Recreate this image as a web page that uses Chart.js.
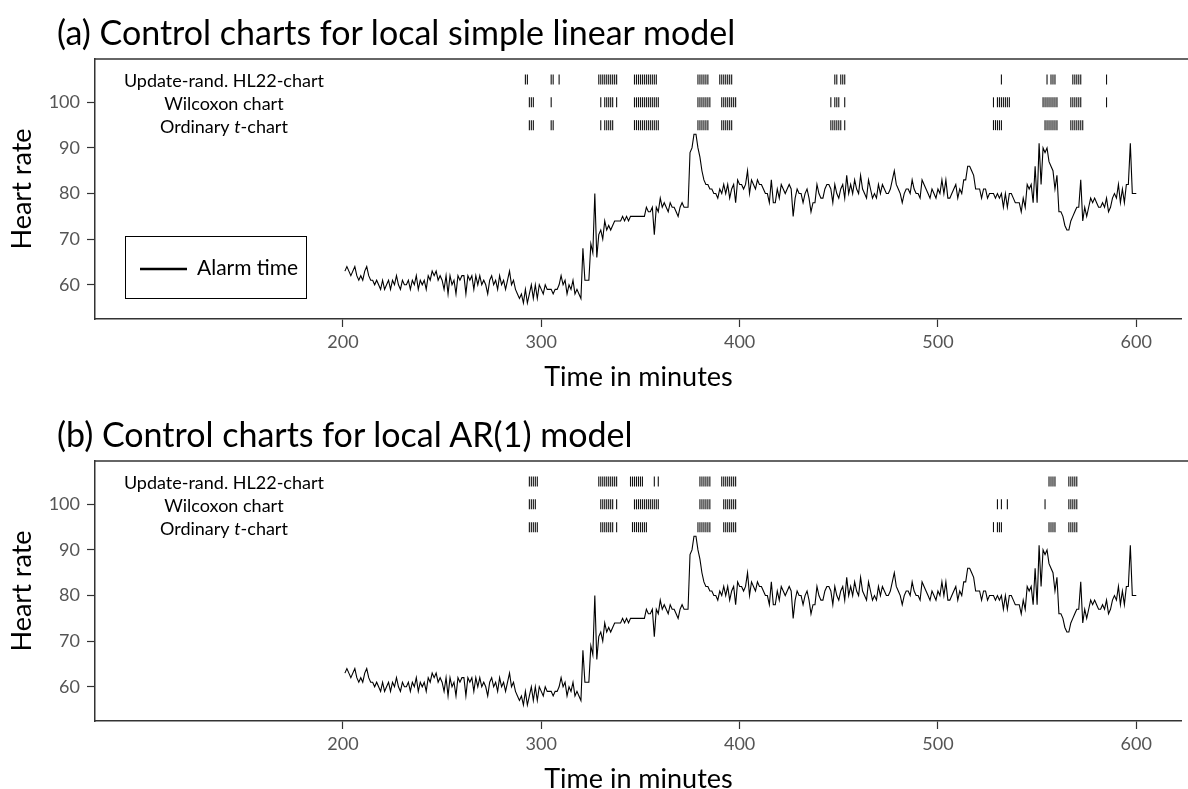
<!DOCTYPE html>
<html>
<head>
<meta charset="UTF-8" />
<script src="https://cdn.jsdelivr.net/npm/chart.js@4.4.1/dist/chart.umd.min.js"></script>
<style>
  html, body { margin: 0; padding: 0; background: #fff; overflow: hidden; }
  body { width: 1188px; height: 789px; position: relative; font-family: Lato, sans-serif; }
  .panel { position: absolute; left: 0; width: 1188px; height: 394px; }
  .panel canvas { position: absolute; left: 0; top: 0; }
  .panel h2 { position: absolute; left: 57px; top: 12px; margin: 0; font-weight: normal;
              font-size: 34px; line-height: 40px; color: #000; white-space: nowrap; z-index: 2; }
</style>
</head>
<body>
<div class="panel" style="top:0">
  <canvas id="chartLinear" width="1188" height="394"></canvas>
  <h2>(a) Control charts for local simple linear model</h2>
</div>
<div class="panel" style="top:402px">
  <canvas id="chartAR" width="1188" height="394"></canvas>
  <h2>(b) Control charts for local AR(1) model</h2>
</div>
<script>
// heart rate, one value per minute starting at minute 201
const minuteStart = 201;
const heartRate = [
  63,64,63,62,63,64,62,61,62,61, 63,64,62,61,61,60,61,60,59,61,
  59,60,61,59,61,60,62,60,59,61, 60,60,61,59,61,60,62,59,61,60,
  61,59,62,61,63,62,63,61,62,61, 59,62,58,62,60,61,58,62,61,62,
  62,58,62,61,62,59,62,60,62,60, 61,60,58,61,62,60,61,59,62,60,
  61,59,61,63,60,61,59,58,57,58, 56,59,56,58,60,57,60,57,60,59,
  58,60,59,59,59,58,59,59,60,62, 60,61,58,60,59,61,58,59,58,57,
  68,61,61,61,69,67,80,66,71,72, 70,74,72,73,72,73,74,74,74,74,
  75,74,75,74,75,75,75,75,75,75, 75,75,77,76,76,77,71,77,76,79,
  77,78,77,76,78,77,77,76,75,77, 78,77,77,77,89,90,93,93,90,88,
  85,83,82,82,81,81,80,80,79,81, 80,82,80,82,79,81,82,78,83,82,
  82,81,82,85,80,83,82,81,83,82, 82,81,80,80,78,83,78,78,81,79,
  82,81,80,81,82,81,75,79,81,80, 80,78,80,81,79,76,78,78,82,80,
  79,79,81,82,82,81,78,82,80,79, 81,82,79,84,80,82,80,83,81,80,
  84,81,80,79,83,81,79,80,79,82, 80,82,81,80,80,81,83,85,82,81,
  80,78,80,81,81,80,83,81,80,80, 79,83,82,81,80,79,81,80,79,81,
  80,83,80,83,79,79,80,81,82,79, 81,80,83,83,86,86,85,84,81,81,
  81,79,81,81,79,80,80,80,79,80, 79,80,77,80,77,80,80,79,78,78,
  78,76,79,77,82,81,82,78,86,78, 91,82,90,89,90,87,86,85,81,84,
  76,76,75,73,72,72,74,75,76,77, 77,83,74,77,75,77,79,78,79,78,
  77,77,78,77,79,76,77,79,80,79, 82,78,81,78,82,82,91,80,80,80
];

const xTickValues = [200, 300, 400, 500, 600];
const yTickValues = [60, 70, 80, 90, 100];
const chartNames = ['Update-rand. HL22-chart', 'Wilcoxon chart', 'Ordinary t-chart'];
const alarmLevels = [105, 100, 95];

// alarm minutes, local simple linear model
const linHL22 = [292,293,305,306,309,329,330,331,332,333,334,335,336,337,338,
  347,348,349,350,351,352,353,354,355,356,357,358,379,380,381,382,383,384,
  390,391,392,393,394,395,396,448,449,451,452,453,532,555,557,558,559,
  568,569,570,571,572,585];
const linWilcoxon = [294,295,296,305,330,332,333,334,335,336,338,
  347,348,349,350,351,352,353,354,355,356,357,358,359,379,380,381,382,383,384,385,
  391,392,393,394,395,396,397,398,446,448,449,450,453,528,530,531,532,533,534,535,536,
  553,554,555,556,557,558,559,560,567,568,569,570,571,572,585];
const linT = [294,295,296,305,306,330,332,333,334,335,336,
  347,348,349,350,351,352,353,354,355,356,357,358,359,379,380,381,382,383,384,
  391,392,393,394,395,396,446,447,448,449,450,451,453,528,529,530,531,532,
  554,555,556,557,558,559,560,567,568,569,570,571,572,573];

// alarm minutes, local AR(1) model
const arHL22 = [294,295,296,297,298,329,330,331,332,333,334,335,336,337,338,
  345,346,347,348,349,350,351,357,359,380,381,382,383,384,385,
  391,392,393,394,395,396,397,398,556,557,558,559,566,567,568,569,570];
const arWilcoxon = [294,295,296,297,330,331,332,333,334,335,336,338,
  347,348,349,350,351,352,353,354,355,356,357,358,359,380,381,382,383,384,385,
  392,393,394,395,396,397,398,530,532,535,554,566,567,568,569,570];
const arT = [294,295,296,297,298,330,331,332,333,334,335,336,338,
  346,347,348,349,350,351,352,353,379,380,381,382,383,384,385,
  392,393,394,395,396,397,398,528,530,531,532,556,557,558,559,566,567,568,569,570];

const FONT = 'Lato';
const labelCentre = 140;   // minute at which the chart names are centred

// names of the three control charts, left of the alarm rows
const rowLabels = {
  id: 'rowLabels',
  afterDatasetsDraw(chart) {
    const { ctx, scales: { x, y } } = chart;
    const cx = x.getPixelForValue(labelCentre);
    ctx.save();
    ctx.fillStyle = '#000';
    ctx.textBaseline = 'middle';
    ctx.textAlign = 'left';
    chartNames.forEach((name, i) => {
      const cy = y.getPixelForValue(alarmLevels[i]) + 2;
      const m = name.match(/^(.* )(t)(-chart)$/);
      const parts = m ? [[m[1], ''], [m[2], 'italic '], [m[3], '']] : [[name, '']];
      let total = 0;
      parts.forEach(p => { ctx.font = p[1] + '18px ' + FONT; total += ctx.measureText(p[0]).width; });
      let px = cx - total / 2;
      parts.forEach(p => {
        ctx.font = p[1] + '18px ' + FONT;
        ctx.fillText(p[0], px, cy);
        px += ctx.measureText(p[0]).width;
      });
    });
    ctx.restore();
  }
};

// upper frame line of the plot area
const topFrame = {
  id: 'topFrame',
  afterDraw(chart) {
    const { ctx, chartArea } = chart;
    ctx.save();
    ctx.strokeStyle = '#333';
    ctx.lineWidth = 1.5;
    ctx.beginPath();
    ctx.moveTo(chartArea.left, chartArea.top);
    ctx.lineTo(chart.width, chartArea.top);
    ctx.stroke();
    ctx.restore();
  }
};

// boxed legend entry in the lower left corner
const alarmLegend = {
  id: 'alarmLegend',
  afterDraw(chart, args, opts) {
    if (!opts.show) return;
    const { ctx, chartArea } = chart;
    const bx = chartArea.left + 30, by = chartArea.top + 177;
    ctx.save();
    ctx.fillStyle = '#fff';
    ctx.fillRect(bx, by, 181, 62);
    ctx.strokeStyle = '#000';
    ctx.lineWidth = 1;
    ctx.strokeRect(bx + 0.5, by + 0.5, 181, 62);
    ctx.lineWidth = 2.5;
    ctx.beginPath();
    ctx.moveTo(bx + 15, by + 33);
    ctx.lineTo(bx + 62, by + 33);
    ctx.stroke();
    ctx.fillStyle = '#000';
    ctx.font = '21px ' + FONT;
    ctx.textBaseline = 'middle';
    ctx.fillText('Alarm time', bx + 72, by + 32);
    ctx.restore();
  }
};

function alarmSet(minutes, level) {
  return {
    type: 'scatter',
    data: minutes.map(m => ({ x: m, y: level })),
    pointStyle: 'line',
    rotation: 90,
    pointRadius: 5,
    pointBorderWidth: 1.1,
    borderColor: '#111',
    backgroundColor: '#111',
    showLine: false
  };
}

function buildChart(id, alarms, showLegend) {
  const series = {
    type: 'line',
    data: heartRate.map((v, i) => ({ x: minuteStart + i, y: v })),
    borderColor: '#000',
    borderWidth: 1.1,
    pointRadius: 0,
    tension: 0
  };
  return new Chart(document.getElementById(id), {
    type: 'scatter',
    data: { datasets: [series].concat(alarms.map((a, i) => alarmSet(a, alarmLevels[i]))) },
    options: {
      responsive: false,
      animation: false,
      devicePixelRatio: 1,
      layout: { padding: { top: 59, left: 0, right: 0, bottom: 0 } },
      plugins: {
        legend: { display: false },
        tooltip: { enabled: false },
        alarmLegend: { show: showLegend }
      },
      scales: {
        x: {
          type: 'linear', min: 75, max: 623,
          afterBuildTicks: s => { s.ticks = xTickValues.map(v => ({ value: v })); },
          afterFit: s => { s.height = 75; },
          border: { color: '#333', width: 1.5 },
          grid: { drawOnChartArea: false, tickLength: 8, tickColor: '#333', tickWidth: 1.2 },
          ticks: { color: '#555', font: { family: FONT, size: 18 }, padding: 4, maxRotation: 0 },
          title: { display: true, text: 'Time in minutes', color: '#000',
                   font: { family: FONT, size: 27 }, padding: { top: 0, bottom: 1 } }
        },
        y: {
          type: 'linear', min: 52.5, max: 109.5,
          afterBuildTicks: s => { s.ticks = yTickValues.map(v => ({ value: v })); },
          afterFit: s => { s.width = 95; },
          border: { color: '#333', width: 1.5 },
          grid: { drawOnChartArea: false, tickLength: 8, tickColor: '#333', tickWidth: 1.2 },
          ticks: { color: '#555', font: { family: FONT, size: 18 }, padding: 7 },
          title: { display: true, text: 'Heart rate', color: '#000',
                   font: { family: FONT, size: 27 }, padding: { top: 6, bottom: 0 } }
        }
      }
    },
    plugins: [rowLabels, topFrame, alarmLegend]
  });
}

buildChart('chartLinear', [linHL22, linWilcoxon, linT], true);
buildChart('chartAR', [arHL22, arWilcoxon, arT], false);
</script>
</body>
</html>
